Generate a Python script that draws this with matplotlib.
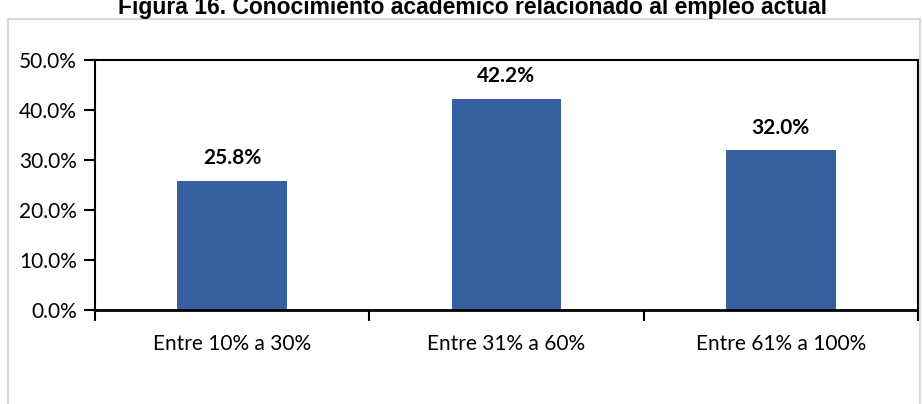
import numpy as np
import matplotlib.pyplot as plt
from matplotlib.patches import Rectangle

categorias = ["Entre 10% a 30%", "Entre 31% a 60%", "Entre 61% a 100%"]
porcentajes = [25.8, 42.2, 32.0]
etiquetas = ["25.8%", "42.2%", "32.0%"]
yticks = [0, 10, 20, 30, 40, 50]

fig = plt.figure(figsize=(9.22, 4.04), dpi=100)

# marco gris del grafico
fig.patches.append(Rectangle((8/922, -0.05), 912/922, 1 - 19/404 + 0.05,
                             transform=fig.transFigure, fill=False,
                             edgecolor="#d9d9d9", linewidth=1.5))

# titulo cortado en la parte superior
fig.text(472/922, 1 - 14/404, "Figura 16. Conocimiento académico relacionado al empleo actual",
         ha="center", va="baseline", fontsize=16.5, fontweight="bold",
         family="Liberation Sans")

ax = fig.add_axes([95/922, 1 - 310/404, 823/922, 250/404])
x = np.arange(len(categorias))
ax.bar(x, porcentajes, width=0.4, color="#365F9F")
for xi, v, t in zip(x, porcentajes, etiquetas):
    ax.text(xi, v + 2.5, t, ha="center", va="bottom", fontsize=15,
            fontweight="bold", family="Lato")

ax.set_xlim(-0.5, 2.5)
ax.set_ylim(0, 50)
ax.set_yticks(yticks)
ax.set_yticklabels([f"{v:.1f}%" for v in yticks], fontsize=15, family="Lato")
ax.set_xticks([-0.5, 0.5, 1.5, 2.5])
ax.set_xticklabels([])
ax.set_xticks(x, minor=True)
ax.set_xticklabels(categorias, minor=True, fontsize=15, family="Lato")
ax.tick_params(axis="x", which="minor", length=0, pad=17)
ax.tick_params(axis="x", which="major", length=8, width=1.5, direction="out")
ax.tick_params(axis="y", length=8, width=1.5, direction="out", pad=5)
for s in ax.spines.values():
    s.set_linewidth(1.5)
ax.spines["bottom"].set_linewidth(2)

fig.savefig("out.png", dpi=100)
